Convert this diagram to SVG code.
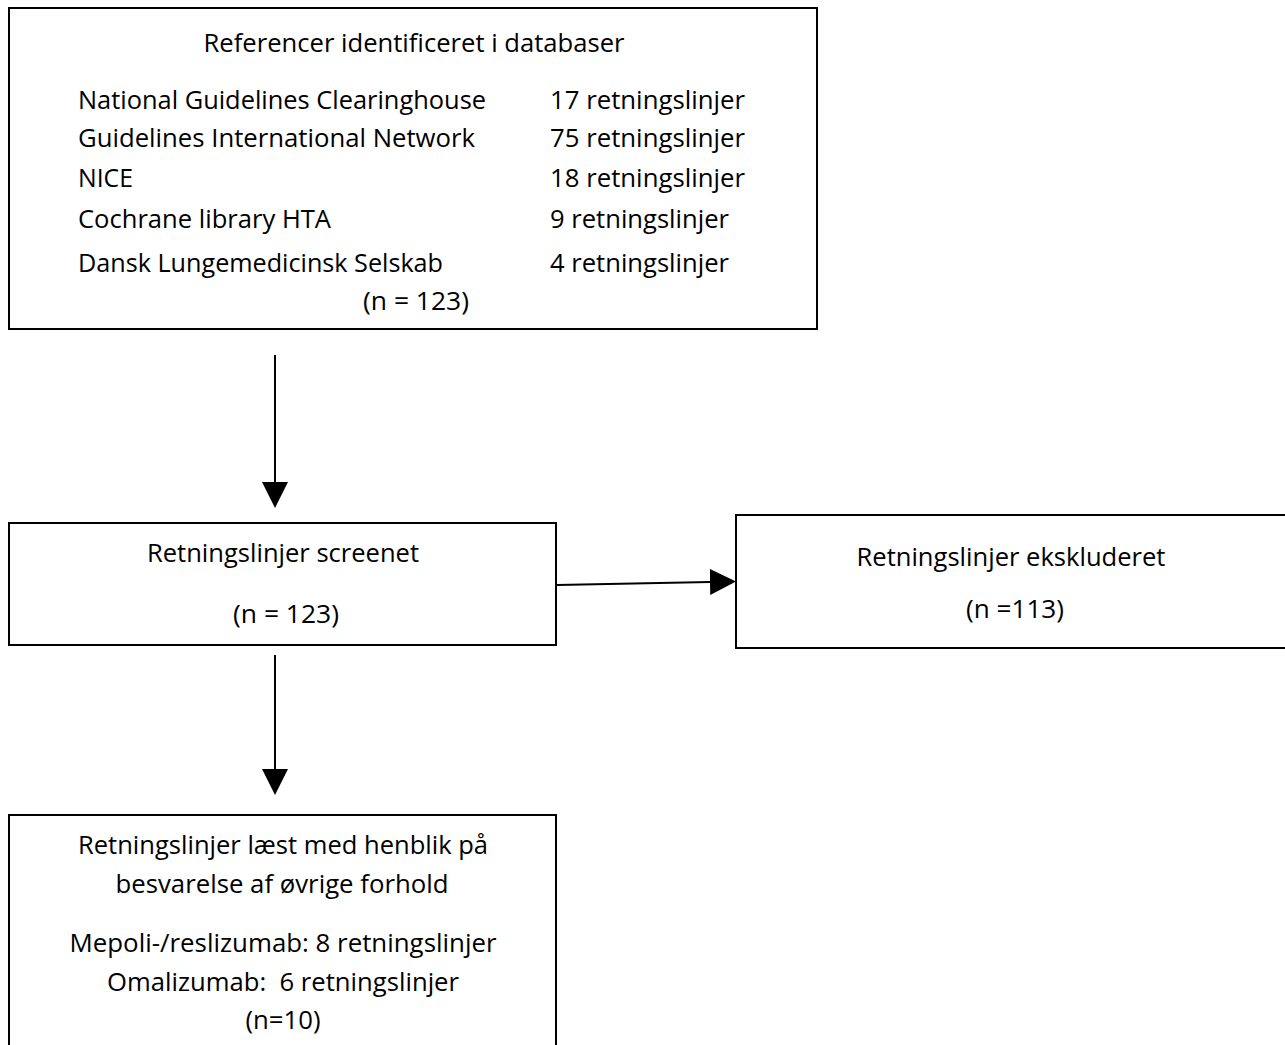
<svg xmlns="http://www.w3.org/2000/svg" width="1285" height="1045" viewBox="0 0 1285 1045">
<style>
.box{fill:#fff;stroke:#000;stroke-width:2}
.t{font-family:"Open Sans","Noto Sans","Liberation Sans",sans-serif;font-size:25.5px;fill:#000}
.c{text-anchor:middle}
.conn{stroke:#000;stroke-width:2;fill:none}
</style>
<defs>
<marker id="ah" markerUnits="userSpaceOnUse" markerWidth="26" markerHeight="26" viewBox="0 0 26 26" refX="0" refY="13" orient="auto">
<path d="M0,0 L26,13 L0,26 Z" fill="#000"/>
</marker>
</defs>
<rect width="1285" height="1045" fill="#fff"/>
<g id="connectors">
<line class="conn" x1="275" y1="355" x2="275" y2="482" marker-end="url(#ah)"/>
<line class="conn" x1="557" y1="585" x2="710" y2="582" marker-end="url(#ah)"/>
<line class="conn" x1="275" y1="655" x2="275" y2="769" marker-end="url(#ah)"/>
</g>
<g id="node-referencer">
<rect class="box" x="9" y="8" width="808" height="321"/>
<text class="t c" x="414" y="52" textLength="421" lengthAdjust="spacingAndGlyphs">Referencer identificeret i databaser</text>
<text class="t" x="78" y="109" textLength="408" lengthAdjust="spacingAndGlyphs">National Guidelines Clearinghouse</text>
<text class="t" x="78" y="147" textLength="397" lengthAdjust="spacingAndGlyphs">Guidelines International Network</text>
<text class="t" x="78" y="187" textLength="55" lengthAdjust="spacingAndGlyphs">NICE</text>
<text class="t" x="78" y="228" textLength="253" lengthAdjust="spacingAndGlyphs">Cochrane library HTA</text>
<text class="t" x="78" y="272" textLength="365" lengthAdjust="spacingAndGlyphs">Dansk Lungemedicinsk Selskab</text>
<text class="t" x="550" y="109" textLength="195" lengthAdjust="spacingAndGlyphs">17 retningslinjer</text>
<text class="t" x="550" y="147" textLength="195" lengthAdjust="spacingAndGlyphs">75 retningslinjer</text>
<text class="t" x="550" y="187" textLength="195" lengthAdjust="spacingAndGlyphs">18 retningslinjer</text>
<text class="t" x="550" y="228" textLength="179" lengthAdjust="spacingAndGlyphs">9 retningslinjer</text>
<text class="t" x="550" y="272" textLength="179" lengthAdjust="spacingAndGlyphs">4 retningslinjer</text>
<text class="t c" x="416" y="310" textLength="106" lengthAdjust="spacingAndGlyphs">(n = 123)</text>
</g>
<g id="node-screenet">
<rect class="box" x="9" y="523" width="547" height="122"/>
<text class="t c" x="283" y="562" textLength="272" lengthAdjust="spacingAndGlyphs">Retningslinjer screenet</text>
<text class="t c" x="286" y="623" textLength="106" lengthAdjust="spacingAndGlyphs">(n = 123)</text>
</g>
<g id="node-ekskluderet">
<rect class="box" x="736" y="515" width="560" height="133"/>
<text class="t c" x="1011" y="566" textLength="309" lengthAdjust="spacingAndGlyphs">Retningslinjer ekskluderet</text>
<text class="t c" x="1015" y="618" textLength="98" lengthAdjust="spacingAndGlyphs">(n =113)</text>
</g>
<g id="node-laest">
<rect class="box" x="9" y="815" width="547" height="250"/>
<text class="t c" x="283" y="854" textLength="410" lengthAdjust="spacingAndGlyphs">Retningslinjer læst med henblik på</text>
<text class="t c" x="282" y="893" textLength="333" lengthAdjust="spacingAndGlyphs">besvarelse af øvrige forhold</text>
<text class="t c" x="283" y="952" textLength="427" lengthAdjust="spacingAndGlyphs">Mepoli-/reslizumab: 8 retningslinjer</text>
<text class="t c" x="283" y="991" textLength="352" lengthAdjust="spacingAndGlyphs" xml:space="preserve">Omalizumab:  6 retningslinjer</text>
<text class="t c" x="283" y="1029" textLength="75" lengthAdjust="spacingAndGlyphs">(n=10)</text>
</g>
</svg>
